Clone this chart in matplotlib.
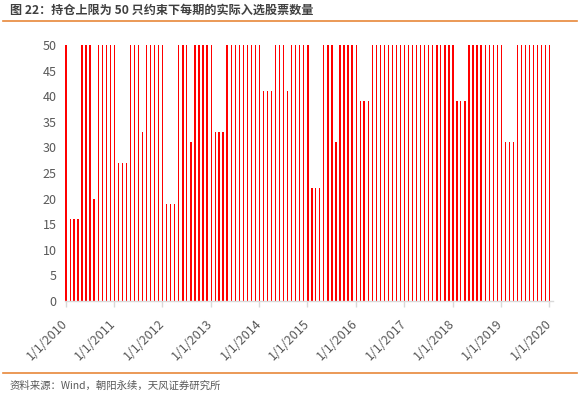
import matplotlib
matplotlib.use("Agg")
import matplotlib.pyplot as plt
import matplotlib.dates as mdates
from matplotlib.lines import Line2D
import pandas as pd
import datetime as dt

plt.rcParams['font.family'] = ['Noto Sans CJK SC', 'DejaVu Sans']

dates = pd.date_range('2010-01-01', '2020-01-01', freq='MS')
values = [
    50, 16, 16, 16, 50, 50, 50, 20, 50, 50, 50, 50,   # 2010
    50, 27, 27, 27, 50, 50, 50, 33, 50, 50, 50, 50,   # 2011
    50, 19, 19, 19, 50, 50, 50, 31, 50, 50, 50, 50,   # 2012
    50, 33, 33, 33, 50, 50, 50, 50, 50, 50, 50, 50,   # 2013
    50, 41, 41, 41, 50, 50, 50, 41, 50, 50, 50, 50,   # 2014
    50, 22, 22, 22, 50, 50, 50, 31, 50, 50, 50, 50,   # 2015
    50, 39, 39, 39, 50, 50, 50, 50, 50, 50, 50, 50,   # 2016
    50, 50, 50, 50, 50, 50, 50, 50, 50, 50, 50, 50,   # 2017
    50, 39, 39, 39, 50, 50, 50, 50, 50, 50, 50, 50,   # 2018
    50, 31, 31, 31, 50, 50, 50, 50, 50, 50, 50, 50,   # 2019
    50,                                               # 2020
]
tick_years = list(range(2010, 2021))
tick_labels = [f"1/1/{y}" for y in tick_years]
y_ticks = list(range(0, 51, 5))

title = "图 22：持仓上限为 50 只约束下每期的实际入选股票数量"
source = "资料来源：Wind，朝阳永续，天风证券研究所"

W, H = 580, 396
fig = plt.figure(figsize=(W / 100, H / 100), dpi=100)
ax = fig.add_axes([65 / W, 1 - 301 / H, (553 - 65) / W, (301 - 45) / H])

bar_x = mdates.date2num(dates + pd.Timedelta(days=3))
ax.bar(bar_x, values, width=10, color='#FF0000', linewidth=0, zorder=2)

ax.set_ylim(0, 50)
ax.set_yticks(y_ticks)
ax.set_xlim(mdates.date2num(dt.datetime(2009, 12, 27)), mdates.date2num(dt.datetime(2020, 1, 29)))
ax.set_xticks([mdates.date2num(dt.datetime(y, 1, 1)) for y in tick_years])
ax.set_xticklabels(tick_labels, rotation=45, ha='right', va='center', rotation_mode='anchor')

for s in ['top', 'right', 'left']:
    ax.spines[s].set_visible(False)
ax.spines['bottom'].set_color('#D9D9D9')
ax.spines['bottom'].set_linewidth(1)
ax.spines['bottom'].set_zorder(3)
ax.tick_params(axis='y', length=0, pad=6, labelsize=9, labelcolor='#595959')
ax.tick_params(axis='x', length=4, width=1, color='#D9D9D9', pad=11, labelsize=9, labelcolor='#595959')

fig.text(10 / W, 1 - 10 / H, title, fontsize=8.7, fontweight='bold', color='#404040', ha='left', va='center')
fig.add_artist(Line2D([3 / W, 577 / W], [1 - 21 / H, 1 - 21 / H], color='#E8883A', linewidth=1.2, transform=fig.transFigure))
fig.add_artist(Line2D([3 / W, 577 / W], [1 - 373 / H, 1 - 373 / H], color='#E8883A', linewidth=1.2, transform=fig.transFigure))
fig.text(10 / W, 1 - 386 / H, source, fontsize=7.5, color='#595959', ha='left', va='center')

fig.savefig('out.png', dpi=100)
